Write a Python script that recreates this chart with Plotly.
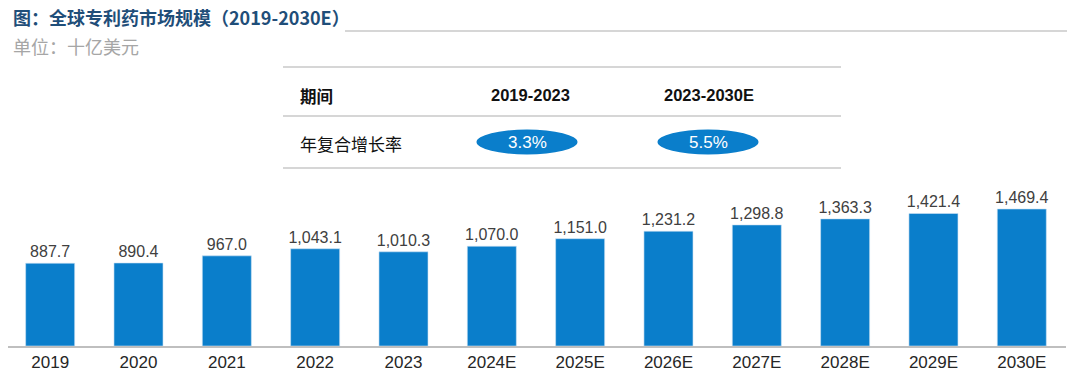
import plotly.graph_objects as go

# ---- data ----
years = ["2019", "2020", "2021", "2022", "2023", "2024E", "2025E",
         "2026E", "2027E", "2028E", "2029E", "2030E"]
market_size = [887.7, 890.4, 967.0, 1043.1, 1010.3, 1070.0, 1151.0,
               1231.2, 1298.8, 1363.3, 1421.4, 1469.4]
bar_labels = ["887.7", "890.4", "967.0", "1,043.1", "1,010.3", "1,070.0", "1,151.0",
              "1,231.2", "1,298.8", "1,363.3", "1,421.4", "1,469.4"]
cagr_periods = ["2019-2023", "2023-2030E"]
cagr_values = ["3.3%", "5.5%"]
title = "图：全球专利药市场规模（2019-2030E）"
subtitle = "单位：十亿美元"

# ---- layout geometry (pixels) ----
W, H = 1080, 380
OFF = 8                      # page body margin offset
L, R, T = 0, 22, 0
BASE = 346                   # baseline in screen pixels
B = H - (BASE - OFF)
PW, PH = W - L - R, H - T - B
CAT = 88.33                  # pixels per category
BLUE = "#0a7ecb"
FONT = "Liberation Sans, Arial, Noto Sans CJK SC, sans-serif"
CJK = "Noto Sans CJK SC, Liberation Sans, sans-serif"


def px(x):
    return (x - OFF - L) / PW


def py(y):
    return (H - B - (y - OFF)) / PH


fig = go.Figure()
fig.add_trace(go.Bar(
    x=list(range(len(years))), y=market_size, text=bar_labels, textposition="outside",
    constraintext="none",
    textfont=dict(size=16, color="#404040", family=FONT),
    marker=dict(color=BLUE, line=dict(width=0.6, color="#cfe3f3")),
    cliponaxis=False, hoverinfo="skip",
))

annotations = []
shapes = []

# title and subtitle
annotations.append(dict(text="<b>" + title + "</b>", x=px(11), y=py(17), xref="paper", yref="paper",
                        xanchor="left", yanchor="middle", showarrow=False,
                        font=dict(size=18, color="#1f4e79", family=CJK)))
annotations.append(dict(text=subtitle, x=px(11), y=py(46), xref="paper", yref="paper",
                        xanchor="left", yanchor="middle", showarrow=False,
                        font=dict(size=18, color="#a6a6a6", family=CJK)))
shapes.append(dict(type="line", xref="paper", yref="paper", x0=px(345), x1=px(1067),
                   y0=py(31), y1=py(31), line=dict(color="#c8c8c8", width=1.5)))

# table lines
for yy in (67, 116, 168):
    shapes.append(dict(type="line", xref="paper", yref="paper", x0=px(283), x1=px(841),
                       y0=py(yy), y1=py(yy), line=dict(color="#c8c8c8", width=1.5)))

annotations.append(dict(text="<b>期间</b>", x=px(298), y=py(96), xref="paper", yref="paper",
                        xanchor="left", yanchor="middle", showarrow=False,
                        font=dict(size=16.5, color="#111111", family=CJK)))
annotations.append(dict(text="年复合增长率", x=px(298), y=py(143), xref="paper", yref="paper",
                        xanchor="left", yanchor="middle", showarrow=False,
                        font=dict(size=17, color="#111111", family=CJK)))

col_centers = [530, 709]
ell_centers = [527, 708]
for period, val, cx, ex in zip(cagr_periods, cagr_values, col_centers, ell_centers):
    annotations.append(dict(text="<b>" + period + "</b>", x=px(cx), y=py(95), xref="paper", yref="paper",
                            xanchor="center", yanchor="middle", showarrow=False,
                            font=dict(size=16.5, color="#111111", family=FONT)))
    shapes.append(dict(type="circle", xref="paper", yref="paper",
                       x0=px(ex - 50.5), x1=px(ex + 50.5), y0=py(154.5), y1=py(129.5),
                       fillcolor=BLUE, line=dict(width=0)))
    annotations.append(dict(text=val, x=px(ex), y=py(142), xref="paper", yref="paper",
                            xanchor="center", yanchor="middle", showarrow=False,
                            font=dict(size=17, color="white", family=FONT)))

ymax = (BASE - OFF - T) / (137.0 / 1469.4)
x_start = -0.5 + (OFF - 6) / CAT
x_end = x_start + PW / CAT

fig.update_layout(
    width=W, height=H,
    margin=dict(l=L, r=R, t=T, b=B),
    paper_bgcolor="white", plot_bgcolor="white",
    showlegend=False, bargap=0.445,
    annotations=annotations, shapes=shapes,
    xaxis=dict(showline=True, linecolor="#bfbfbf", linewidth=1.5, ticks="",
               tickmode="array", tickvals=list(range(len(years))), ticktext=years,
               range=[x_start, x_end],
               tickfont=dict(size=17, color="#262626", family=FONT),
               showgrid=False, fixedrange=True, zeroline=False),
    yaxis=dict(range=[0, ymax], visible=False, showgrid=False, fixedrange=True),
)

fig.write_html("out.html", config={"displayModeBar": False})
